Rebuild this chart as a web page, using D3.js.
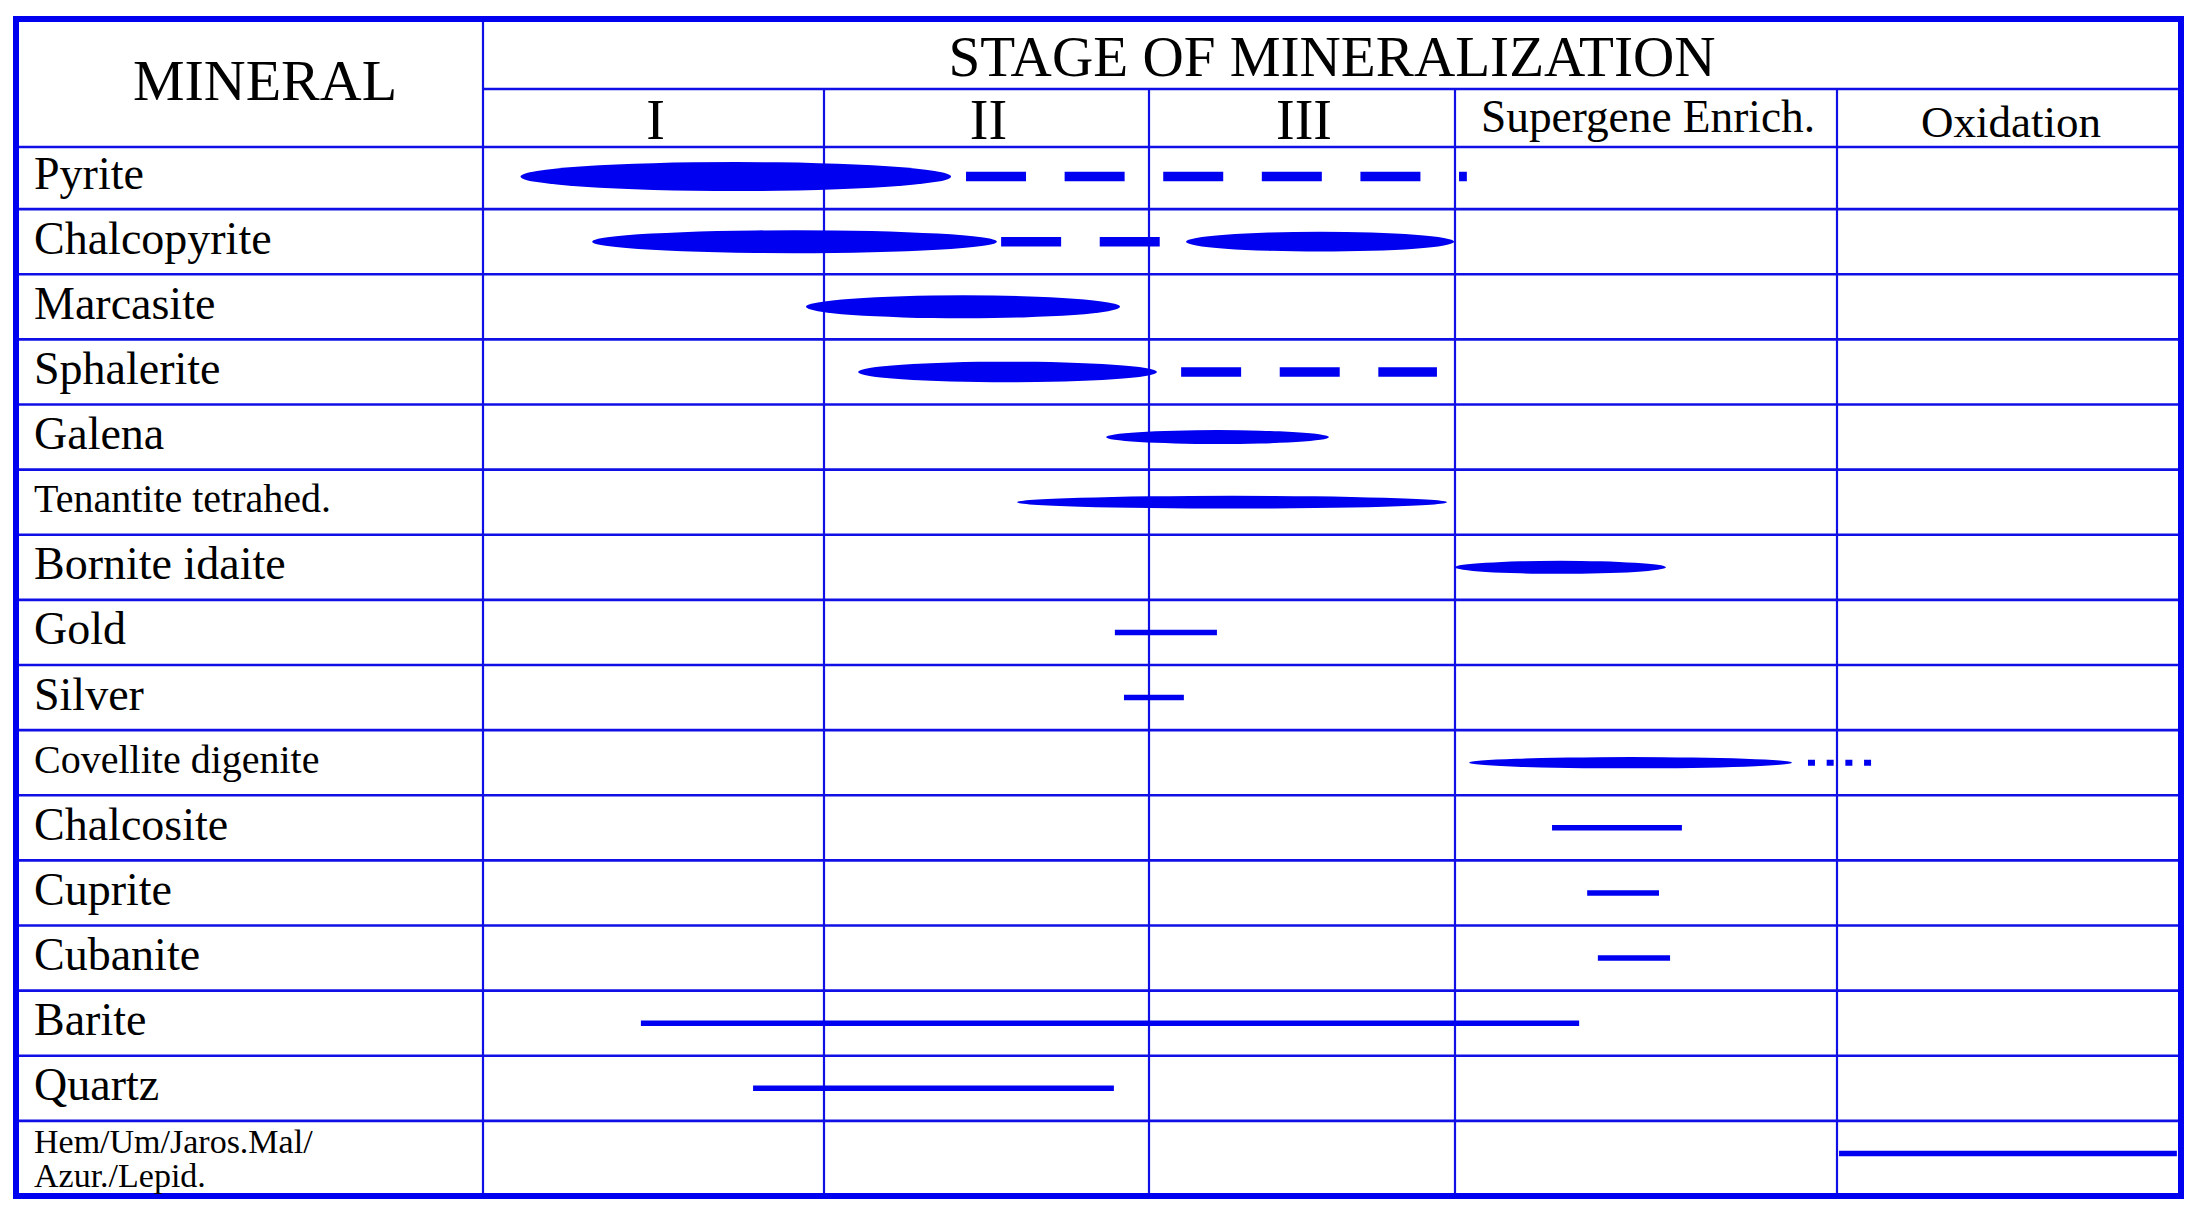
<!DOCTYPE html>
<html><head><meta charset="utf-8">
<script src="https://cdn.jsdelivr.net/npm/d3@7"></script>
<style>body{margin:0;background:#fff}svg{display:block}</style>
</head><body><svg id="c" width="2198" height="1215"></svg>
<script>
// ---------------- DATA ----------------
const minerals = ["Pyrite","Chalcopyrite","Marcasite","Sphalerite","Galena","Tenantite tetrahed.","Bornite idaite","Gold","Silver","Covellite digenite","Chalcosite","Cuprite","Cubanite","Barite","Quartz","Hem/Um/Jaros.Mal/\nAzur./Lepid."];
const stages = ["I","II","III","Supergene Enrich.","Oxidation"];
const titleText = "STAGE OF MINERALIZATION";
const rowHeaderText = "MINERAL";

// Segments, positions in stage units (0 = start of stage I ... 5 = end of Oxidation)
const segRow  = [0, 0, 1, 1, 1, 2, 3, 3, 4, 5, 6, 7, 8, 9, 9, 10, 11, 12, 13, 14, 15];
const segFrom = [0.11, 1.437, 0.32, 1.545, 2.121, 0.947, 1.105, 2.105, 1.868, 1.594, 3.0, 1.895, 1.923, 3.037, 3.924, 3.254, 3.346, 3.374, 0.463, 0.792, 4.006];
const segTo   = [1.391, 3.031, 1.532, 2.039, 2.997, 1.911, 2.026, 2.941, 2.588, 2.974, 3.552, 2.222, 2.114, 3.882, 4.102, 3.594, 3.534, 3.563, 3.325, 1.892, 4.988];
const segType = ["major","dashed","major","dashed","major","major","major","dashed","major","major","major","line","line","major","dotted","line","line","line","line","line","line"];
// relative abundance (thickness of the lens) for "major" segments
const segAbund = [10, null, 7.9, null, 6.8, 7.9, 7.1, null, 4.8, 4.4, 4.5, null, null, 3.9, null, null, null, null, null, null, null];

// ---------------- LAYOUT ----------------
const BLUE = "#0000f0";
const GRID = "#1010e6";
const frameL = 16, frameR = 2181, frameT = 19, frameB = 1196;
const labelRight = 483, headerSplit = 89, headerBottom = 147;
const stageBounds = [483, 824, 1149, 1455, 1837, 2181];

const svg = d3.select("#c");
const x = d3.scaleLinear().domain(d3.range(0, stages.length + 1)).range(stageBounds);
const y = d3.scaleBand().domain(minerals).range([144, 1186]).paddingInner(0).paddingOuter(0);
const yc = m => y(m) + y.bandwidth() / 2;
const thick = d3.scaleLinear().domain([0, 10]).range([0, 29]);

const segs = segRow.map((r, i) => ({m: minerals[r], from: segFrom[i], to: segTo[i], type: segType[i], ab: segAbund[i]}));

// grid: horizontal row lines
const g = svg.append("g");
g.selectAll("line.h").data(minerals.slice(1)).join("line")
  .attr("x1", frameL).attr("x2", frameR)
  .attr("y1", d => y(d)).attr("y2", d => y(d))
  .attr("stroke", GRID).attr("stroke-width", 2.6);
g.append("line").attr("x1", frameL).attr("x2", frameR).attr("y1", headerBottom).attr("y2", headerBottom)
  .attr("stroke", GRID).attr("stroke-width", 2.6);
g.append("line").attr("x1", labelRight).attr("x2", frameR).attr("y1", headerSplit).attr("y2", headerSplit)
  .attr("stroke", GRID).attr("stroke-width", 2.4);
// verticals
g.append("line").attr("x1", labelRight).attr("x2", labelRight).attr("y1", frameT).attr("y2", frameB)
  .attr("stroke", GRID).attr("stroke-width", 2.2);
g.selectAll("line.v").data(d3.range(1, stages.length)).join("line")
  .attr("x1", d => x(d)).attr("x2", d => x(d))
  .attr("y1", headerSplit).attr("y2", frameB)
  .attr("stroke", GRID).attr("stroke-width", 2.2);
// outer border
svg.append("rect").attr("x", frameL).attr("y", frameT).attr("width", frameR - frameL).attr("height", frameB - frameT)
  .attr("fill", "none").attr("stroke", BLUE).attr("stroke-width", 6);

// headers
const serif = "'Liberation Serif','Times New Roman',serif";
svg.append("text").attr("x", 265).attr("y", 100).attr("text-anchor", "middle")
  .attr("font-family", serif).attr("font-size", 58).attr("fill", "#000").text(rowHeaderText);
svg.append("text").attr("x", (x(0) + x(stages.length)) / 2).attr("y", 76).attr("text-anchor", "middle")
  .attr("font-family", serif).attr("font-size", 58).attr("fill", "#000")
  .attr("textLength", 767).attr("lengthAdjust", "spacingAndGlyphs").text(titleText);
svg.selectAll("text.stage").data(stages).join("text")
  .attr("x", (d, i) => (x(i) + x(i + 1)) / 2 + 2)
  .attr("y", (d, i) => i === 3 ? 132 : (i < 3 ? 139 : 137))
  .attr("text-anchor", "middle").attr("font-family", serif)
  .attr("font-size", (d, i) => i < 3 ? 56 : (i === 3 ? 46 : 45))
  .attr("fill", "#000")
  .each(function(d, i) { if (i === 3) d3.select(this).attr("textLength", 334).attr("lengthAdjust", "spacingAndGlyphs"); })
  .text(d => d);

// row labels
const labelSize = m => (m.includes("\n") ? 34 : (m.length > 16 ? 40 : 46));
svg.selectAll("text.lab").data(minerals).join("text")
  .attr("font-family", serif).attr("fill", "#000")
  .attr("font-size", d => labelSize(d))
  .each(function(d) {
    const t = d3.select(this);
    const lines = d.split("\n");
    if (lines.length > 1) {
      lines.forEach((ln, k) => t.append("tspan").attr("x", 34).attr("y", yc(d) + k * 34).text(ln));
    } else {
      t.attr("x", 34).attr("y", yc(d) + (labelSize(d) > 42 ? 12 : 10)).text(d);
    }
  });

// marks
const mk = svg.append("g");
mk.selectAll("ellipse").data(segs.filter(s => s.type === "major")).join("ellipse")
  .attr("cx", s => (x(s.from) + x(s.to)) / 2)
  .attr("cy", s => yc(s.m))
  .attr("rx", s => (x(s.to) - x(s.from)) / 2)
  .attr("ry", s => thick(s.ab) / 2)
  .attr("fill", BLUE);
mk.selectAll("line.dash").data(segs.filter(s => s.type === "dashed")).join("line")
  .attr("x1", s => x(s.from)).attr("x2", s => x(s.to))
  .attr("y1", s => yc(s.m)).attr("y2", s => yc(s.m))
  .attr("stroke", BLUE).attr("stroke-width", 9.5).attr("stroke-dasharray", "60,38.6");
mk.selectAll("line.dot").data(segs.filter(s => s.type === "dotted")).join("line")
  .attr("x1", s => x(s.from)).attr("x2", s => x(s.to))
  .attr("y1", s => yc(s.m)).attr("y2", s => yc(s.m))
  .attr("stroke", BLUE).attr("stroke-width", 6).attr("stroke-dasharray", "7,11.7");
mk.selectAll("line.solid").data(segs.filter(s => s.type === "line")).join("line")
  .attr("x1", s => x(s.from)).attr("x2", s => x(s.to))
  .attr("y1", s => yc(s.m)).attr("y2", s => yc(s.m))
  .attr("stroke", BLUE).attr("stroke-width", 5.5);
</script>
</body></html>
